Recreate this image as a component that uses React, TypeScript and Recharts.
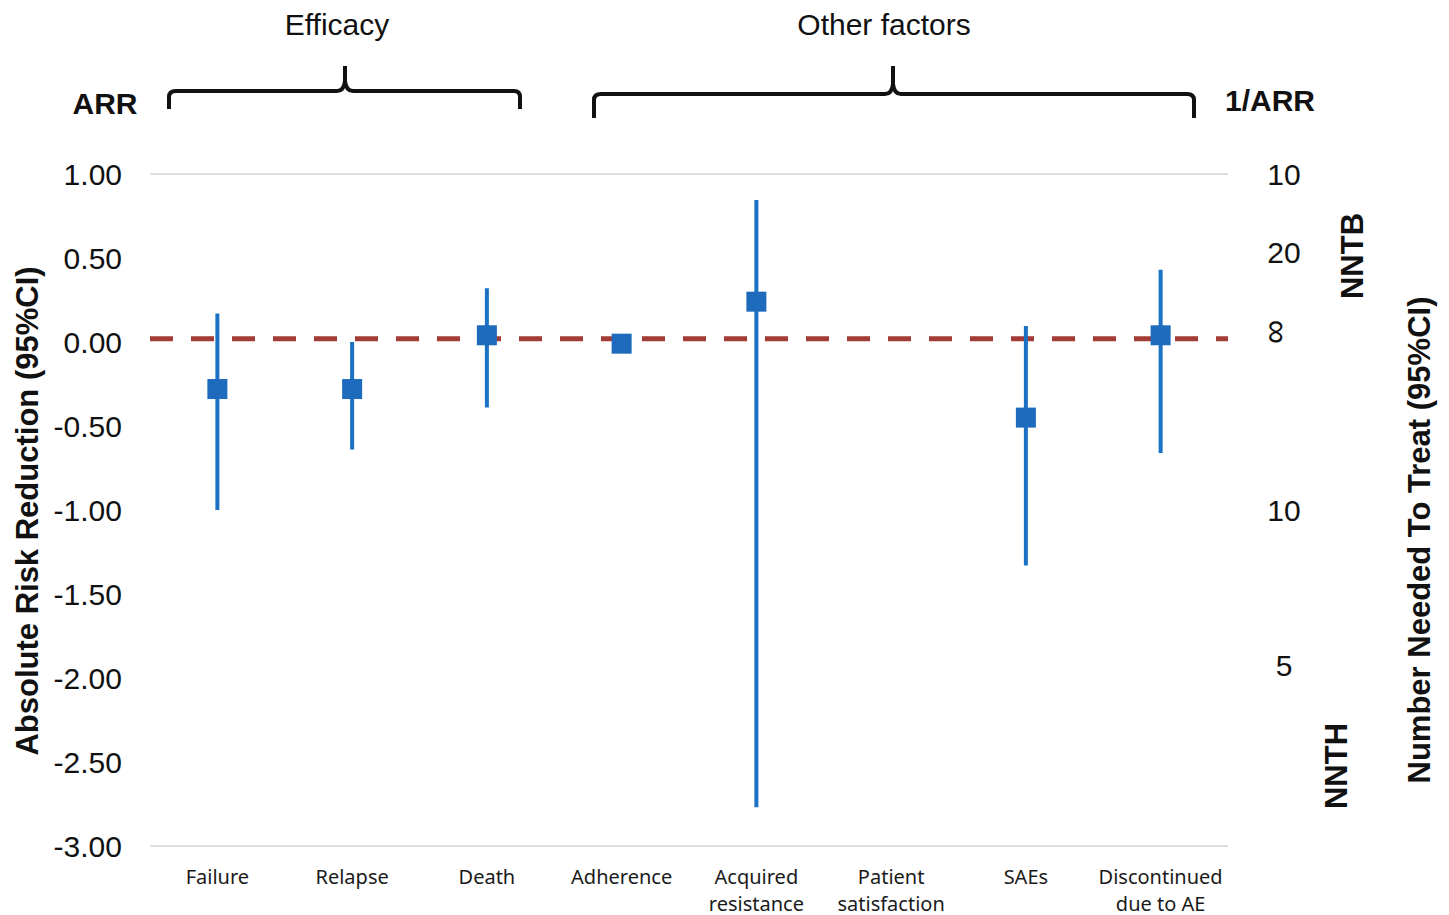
import React from "react"
import {
  ComposedChart,
  Scatter,
  ErrorBar,
  XAxis,
  YAxis,
  CartesianGrid,
  ReferenceLine,
} from "recharts"

const categories = [
  "Failure",
  "Relapse",
  "Death",
  "Adherence",
  "Acquired\nresistance",
  "Patient\nsatisfaction",
  "SAEs",
  "Discontinued\ndue to AE",
]
const arrPoint: (number | null)[] = [-0.28, -0.28, 0.04, -0.01, 0.24, null, -0.45, 0.04]
const arrLow: (number | null)[] = [-1.0, -0.64, -0.39, -0.02, -2.77, null, -1.33, -0.66]
const arrHigh: (number | null)[] = [0.17, 0.0, 0.32, 0.0, 0.845, null, 0.095, 0.43]

const arrTicks = [1, 0.5, 0, -0.5, -1, -1.5, -2, -2.5, -3]
const nntTickValues = [1, 0.536, 0.06, -1, -1.92]
const nntTickLabels = ["10", "20", "∞", "10", "5"]
const nullLine = 0.02

const data = categories.map((name, i) => ({
  name,
  arr: arrPoint[i],
  low: arrLow[i],
  high: arrHigh[i],
}))

const ARIAL = "'Liberation Sans', Arial, sans-serif"
const BLUE = "#1b72c4"

function LeftTick({ x, y, payload }: any) {
  return (
    <text x={x - 28} y={y + 11} textAnchor="end" fontSize={30} fontFamily={ARIAL} fill="#111">
      {Number(payload.value).toFixed(2)}
    </text>
  )
}

function RightTick({ x, y, payload }: any) {
  const i = nntTickValues.indexOf(payload.value)
  const label = nntTickLabels[i]
  if (label === "∞") {
    return (
      <text
        x={x + 50}
        y={y}
        textAnchor="middle"
        dominantBaseline="central"
        fontSize={34}
        fontFamily={ARIAL}
        fill="#111"
        transform={`rotate(90 ${x + 50} ${y})`}
      >
        {label}
      </text>
    )
  }
  return (
    <text x={x + 56} y={y + 11} textAnchor="middle" fontSize={30} fontFamily={ARIAL} fill="#111">
      {label}
    </text>
  )
}

function CategoryTick({ x, y, payload }: any) {
  const lines = String(payload.value).split("\n")
  return (
    <text textAnchor="middle" fontSize={20} fontFamily="'Noto Sans', 'Open Sans', sans-serif" fill="#1a1a1a">
      {lines.map((l, i) => (
        <tspan key={i} x={x} y={y + 38 + i * 27}>
          {l}
        </tspan>
      ))}
    </text>
  )
}

function SquareDot({ cx, cy, payload }: any) {
  if (payload == null || payload.arr == null) return null
  const s = 20
  return <rect x={cx - s / 2} y={cy - s / 2} width={s} height={s} fill="#1e6bbd" />
}

const Nothing = () => null

export default function App() {
  return (
    <div style={{ position: "absolute", left: 0, top: 0, width: 1449, height: 915, background: "#fff" }}>
      <ComposedChart
        width={1449}
        height={915}
        data={data}
        margin={{ top: 174, right: 0, bottom: 0, left: 0 }}
      >
        <CartesianGrid horizontal vertical={false} stroke="#d4d4d4" strokeWidth={1.5} />
        <XAxis
          dataKey="name"
          type="category"
          scale="band"
          interval={0}
          axisLine={false}
          tickLine={false}
          tickSize={0}
          tickMargin={0}
          height={69}
          tick={<CategoryTick />}
        />
        <YAxis
          yAxisId="arr"
          domain={[-3, 1]}
          ticks={arrTicks}
          width={150}
          axisLine={false}
          tickLine={false}
          tickSize={0}
          tickMargin={0}
          tick={<LeftTick />}
        />
        <YAxis
          yAxisId="nnt"
          orientation="right"
          domain={[-3, 1]}
          ticks={nntTickValues}
          interval={0}
          width={221}
          axisLine={false}
          tickLine={false}
          tickSize={0}
          tickMargin={0}
          tick={<RightTick />}
        />
        <ReferenceLine
          yAxisId="arr"
          y={nullLine}
          stroke="#a33b36"
          strokeWidth={5}
          strokeDasharray="23 18"
        />
        <Scatter yAxisId="nnt" dataKey="arr" shape={<Nothing />} isAnimationActive={false} />
        <Scatter yAxisId="arr" dataKey="arr" shape={<SquareDot />} isAnimationActive={false}>
          <ErrorBar
            dataKey={(d: any) => (d.arr == null ? null : [d.arr - d.low, d.high - d.arr])}
            direction="y"
            width={0}
            stroke={BLUE}
            strokeWidth={4}
            isAnimationActive={false}
          />
        </Scatter>
      </ComposedChart>

      <svg
        width={1449}
        height={915}
        style={{ position: "absolute", left: 0, top: 0, pointerEvents: "none" }}
      >
        <g fill="none" stroke="#111" strokeWidth={4}>
          <path d="M169 109 V97 Q169 91 176 91 H337 Q344 91 345 81 V66 M345 81 Q346 91 353 91 H514 Q520 91 520 97 V109" />
          <path d="M594 118 V100 Q594 94 601 94 H885 Q892 94 893 84 V66 M893 84 Q894 94 901 94 H1187 Q1194 94 1194 100 V118" />
        </g>
        <g fontFamily={ARIAL} fill="#111">
          <text x={337} y={35} textAnchor="middle" fontSize={30}>Efficacy</text>
          <text x={884} y={35} textAnchor="middle" fontSize={30}>Other factors</text>
          <text x={105} y={114} textAnchor="middle" fontSize={30} fontWeight="bold">ARR</text>
          <text x={1270} y={111} textAnchor="middle" fontSize={30} fontWeight="bold">1/ARR</text>
          <text
            x={27}
            y={511}
            textAnchor="middle"
            dominantBaseline="central"
            fontSize={31}
            fontWeight="bold"
            transform="rotate(-90 27 511)"
          >
            Absolute Risk Reduction (95%CI)
          </text>
          <text
            x={1352}
            y={256}
            textAnchor="middle"
            dominantBaseline="central"
            fontSize={31}
            fontWeight="bold"
            transform="rotate(-90 1352 256)"
          >
            NNTB
          </text>
          <text
            x={1336}
            y={766}
            textAnchor="middle"
            dominantBaseline="central"
            fontSize={31}
            fontWeight="bold"
            transform="rotate(-90 1336 766)"
          >
            NNTH
          </text>
          <text
            x={1419}
            y={540}
            textAnchor="middle"
            dominantBaseline="central"
            fontSize={31}
            fontWeight="bold"
            transform="rotate(-90 1419 540)"
          >
            Number Needed To Treat (95%CI)
          </text>
        </g>
      </svg>
    </div>
  )
}
